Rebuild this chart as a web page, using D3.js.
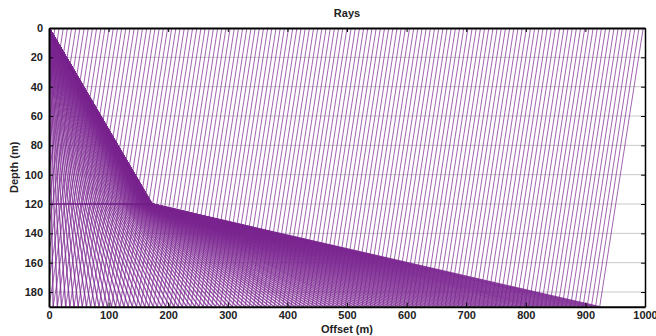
<!DOCTYPE html>
<html>
<head>
<meta charset="utf-8">
<script src="https://cdn.jsdelivr.net/npm/d3@7"></script>
<style>
  body { margin: 0; background: #fff; }
  text { font-family: "Liberation Sans", Arial, sans-serif; font-weight: bold; }
</style>
</head>
<body>
<svg id="chart" width="656" height="336"></svg>
<script>
// Model
var interfaceDepth = 120;     // layer boundary (m)
var bottomDepth = 190;        // bottom of the plotted model (m)
var v1 = 1650, v2 = 2000;     // layer velocities (m/s)
var upShift = 73;             // horizontal run of each up-going leg over the full depth

// Offsets (m) where each ray reaches the bottom (negative ones lie left of the source)
var bottomOffsets = [
    -70, -63, -56, -49, -42, -35, -28, -21, -14, -7,
    0, 7, 14, 21, 28, 35, 42, 49, 56, 63, 70, 77, 84, 91, 98, 105, 112, 119, 126, 133,
    140, 147, 154, 161, 168, 175, 182, 189, 196, 203, 210, 217, 224, 231, 238, 245, 252, 259, 266, 273,
    280, 287, 294, 301, 308, 315, 322, 329, 336, 343, 350, 357, 364, 371, 378, 385, 392, 399, 406, 413,
    420, 427, 434, 441, 448, 455, 462, 469, 476, 483, 490, 497, 504, 511, 518, 525, 532, 539, 546, 553,
    560, 567, 574, 581, 588, 595, 602, 609, 616, 623, 630, 637, 644, 651, 658, 665, 672, 679, 686, 693,
    700, 707, 714, 721, 728, 735, 742, 749, 756, 763, 770, 777, 784, 791, 798, 805, 812, 819, 826, 833,
    840, 847, 854, 861, 868, 875, 882, 889, 896, 903, 910, 917, 924
];

var xTicks = [0, 100, 200, 300, 400, 500, 600, 700, 800, 900, 1000];
var yTicks = [0, 20, 40, 60, 80, 100, 120, 140, 160, 180];

var plotL = 49, plotR = 645, plotT = 28, plotB = 306.7;

var x = d3.scaleLinear().domain([0, 1000]).range([plotL, plotR]);
var y = d3.scaleLinear().domain([0, 190]).range([plotT, plotB]);

var svg = d3.select("#chart");

// Down-going leg through both layers for a ray ending at offset b (Snell's law)
function downLeg(b) {
    var sign = b < 0 ? -1 : 1, target = Math.abs(b);
    var lo = 0, hi = 1 / v2 * 0.999999;
    for (var k = 0; k < 60; k++) {
        var p = (lo + hi) / 2;
        var s1 = p * v1, s2 = p * v2;
        var xr = interfaceDepth * s1 / Math.sqrt(1 - s1 * s1) +
                 (bottomDepth - interfaceDepth) * s2 / Math.sqrt(1 - s2 * s2);
        if (xr < target) lo = p; else hi = p;
    }
    var s = lo * v1;
    var a = sign * interfaceDepth * s / Math.sqrt(1 - s * s);
    return [[0, 0], [a, interfaceDepth], [b, bottomDepth]];
}

function upLeg(b) {
    return [[b, bottomDepth], [b + upShift, 0]];
}

svg.append("clipPath").attr("id", "plot")
    .append("rect")
    .attr("x", plotL).attr("y", plotT)
    .attr("width", plotR - plotL).attr("height", plotB - plotT);

// Horizontal grid
svg.append("g").selectAll("line")
    .data(yTicks.slice(1))
    .enter().append("line")
    .attr("x1", plotL).attr("x2", plotR)
    .attr("y1", function (d) { return y(d); })
    .attr("y2", function (d) { return y(d); })
    .attr("stroke", "#c8c8c8")
    .attr("stroke-width", 1);

var line = d3.line()
    .x(function (d) { return x(d[0]); })
    .y(function (d) { return y(d[1]); });

var g = svg.append("g").attr("clip-path", "url(#plot)");

g.selectAll("path.up")
    .data(bottomOffsets.map(upLeg))
    .enter().append("path")
    .attr("class", "up")
    .attr("d", line)
    .attr("fill", "none")
    .attr("stroke", "#7a2590")
    .attr("stroke-opacity", 0.75)
    .attr("stroke-width", 0.95);

g.selectAll("path.down")
    .data(bottomOffsets.map(downLeg))
    .enter().append("path")
    .attr("class", "down")
    .attr("d", line)
    .attr("fill", "none")
    .attr("stroke", "#7a2590")
    .attr("stroke-opacity", 0.8)
    .attr("stroke-width", 1.4);

// Interface segment
g.append("path")
    .attr("d", line([[0, interfaceDepth], [175, interfaceDepth]]))
    .attr("stroke", "#6e1f84")
    .attr("stroke-width", 1.5);

// Axes, ticks pointing inward
svg.append("g")
    .attr("transform", "translate(0," + plotB + ")")
    .call(d3.axisBottom(x).tickValues(xTicks).tickFormat(d3.format("d"))
        .tickSizeInner(-4).tickSizeOuter(0).tickPadding(5))
    .call(function (a) {
        a.select(".domain").attr("stroke-width", 2);
        a.selectAll("text").attr("font-size", 11).attr("fill", "#222");
    });

svg.append("g")
    .attr("transform", "translate(" + plotL + ",0)")
    .call(d3.axisLeft(y).tickValues(yTicks).tickSizeInner(-4).tickSizeOuter(0).tickPadding(6))
    .call(function (a) {
        a.select(".domain").attr("stroke-width", 2);
        a.selectAll("text").attr("font-size", 11).attr("fill", "#222");
    });

svg.append("g")
    .attr("transform", "translate(0," + plotT + ")")
    .call(d3.axisTop(x).tickValues(xTicks).tickSizeInner(-4).tickSizeOuter(0).tickFormat(""))
    .call(function (a) { a.select(".domain").attr("stroke-width", 2); });

svg.append("g")
    .attr("transform", "translate(" + plotR + ",0)")
    .call(d3.axisRight(y).tickValues(yTicks).tickSizeInner(-4).tickSizeOuter(0).tickFormat(""))
    .call(function (a) { a.select(".domain").attr("stroke-width", 1.5); });

// Titles
svg.append("text")
    .attr("x", (plotL + plotR) / 2).attr("y", 17)
    .attr("text-anchor", "middle")
    .attr("font-size", 11)
    .attr("fill", "#222")
    .text("Rays");

svg.append("text")
    .attr("x", (plotL + plotR) / 2).attr("y", 333)
    .attr("text-anchor", "middle")
    .attr("font-size", 11)
    .attr("fill", "#222")
    .text("Offset (m)");

svg.append("text")
    .attr("transform", "translate(18," + (plotT + plotB) / 2 + ") rotate(-90)")
    .attr("text-anchor", "middle")
    .attr("font-size", 11)
    .attr("fill", "#222")
    .text("Depth (m)");
</script>
</body>
</html>
